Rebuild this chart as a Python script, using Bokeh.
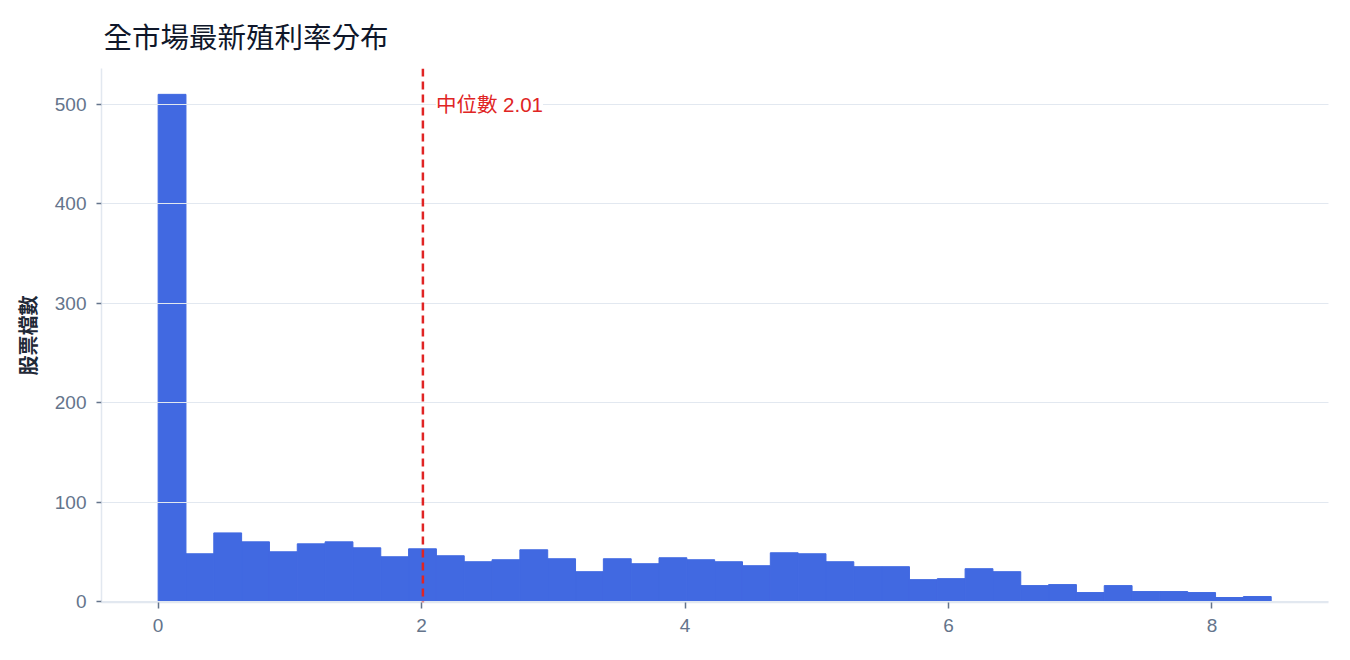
import numpy as np
from bokeh.plotting import figure
from bokeh.models import Span, Label, ColumnDataSource, FixedTicker, Range1d
from bokeh.embed import file_html
from bokeh.resources import INLINE

# Histogram data: dividend yield (%) distribution, 40 equal bins from 0 to 8.45
bin_min = 0.0
bin_max = 8.45
counts = [510, 48, 69, 60, 50, 58, 60, 54, 45, 53,
          46, 40, 42, 52, 43, 30, 43, 38, 44, 42,
          40, 36, 49, 48, 40, 35, 35, 22, 23, 33,
          30, 16, 17, 9, 16, 10, 10, 9, 4, 5]
median_value = 2.01
x_ticks = [0, 2, 4, 6, 8]
y_ticks = [0, 100, 200, 300, 400, 500]

title_text = "全市場最新殖利率分布"
y_label = "股票檔數"
median_label = "中位數 2.01"

edges = np.linspace(bin_min, bin_max, len(counts) + 1)
src = ColumnDataSource(dict(left=edges[:-1], right=edges[1:], top=counts))

FONT = "Liberation Sans, Noto Sans CJK TC"
CJK = "Noto Sans CJK TC"

p = figure(frame_width=1227, frame_height=534,
           min_border_left=101, min_border_right=6, min_border_top=68, min_border_bottom=40,
           output_backend="svg", toolbar_location=None,
           x_range=Range1d(-0.43, 8.885), y_range=Range1d(-1, 536),
           title=title_text)

p.quad(left="left", right="right", top="top", bottom=0, source=src,
       fill_color="#4169e1", line_color="#4169e1", line_width=1)

p.title.text_font = FONT
p.title.text_font_size = "28.5px"
p.title.text_font_style = "normal"
p.title.text_color = "#0f172a"
p.title.text_line_height = 0.75
p.title.offset = 2
p.title.standoff = 30

p.outline_line_color = None
p.background_fill_color = "white"
p.border_fill_color = "white"

p.xgrid.visible = False
p.ygrid.grid_line_color = "#e2e8f0"
p.ygrid.grid_line_width = 1
p.ygrid.level = "overlay"
p.ygrid.ticker = FixedTicker(ticks=y_ticks)

for ax in (p.xaxis[0], p.yaxis[0]):
    ax.axis_line_color = "#e2e8f0"
    ax.axis_line_width = 1.5
    ax.major_tick_line_color = "#64748b"
    ax.major_tick_line_width = 1.5
    ax.major_tick_in = 0
    ax.minor_tick_line_color = None
    ax.major_label_text_color = "#64748b"
    ax.major_label_text_font = FONT
    ax.major_label_text_font_size = "19px"

p.xaxis.ticker = FixedTicker(ticks=x_ticks)
p.yaxis.ticker = FixedTicker(ticks=y_ticks)
p.xaxis.major_tick_out = 6
p.yaxis.major_tick_out = 5
p.xaxis.major_label_standoff = 10
p.yaxis.major_label_standoff = 10

p.yaxis.axis_label = y_label
p.yaxis.axis_label_text_font = CJK
p.yaxis.axis_label_text_font_size = "20px"
p.yaxis.axis_label_text_font_style = "bold"
p.yaxis.axis_label_text_color = "#1f2937"
p.yaxis.axis_label_standoff = 10

span = Span(location=median_value, dimension="height", line_color="#e02424",
            line_width=2.5, line_dash="8 5", level="overlay")
p.add_layout(span)

lbl = Label(x=median_value, y=500, x_offset=13, text=median_label,
            text_baseline="middle", text_color="#e02424",
            text_font=FONT, text_font_size="20.5px",
            background_fill_color="white", level="overlay")
p.add_layout(lbl)

open("out.html", "w").write(file_html(p, INLINE))
